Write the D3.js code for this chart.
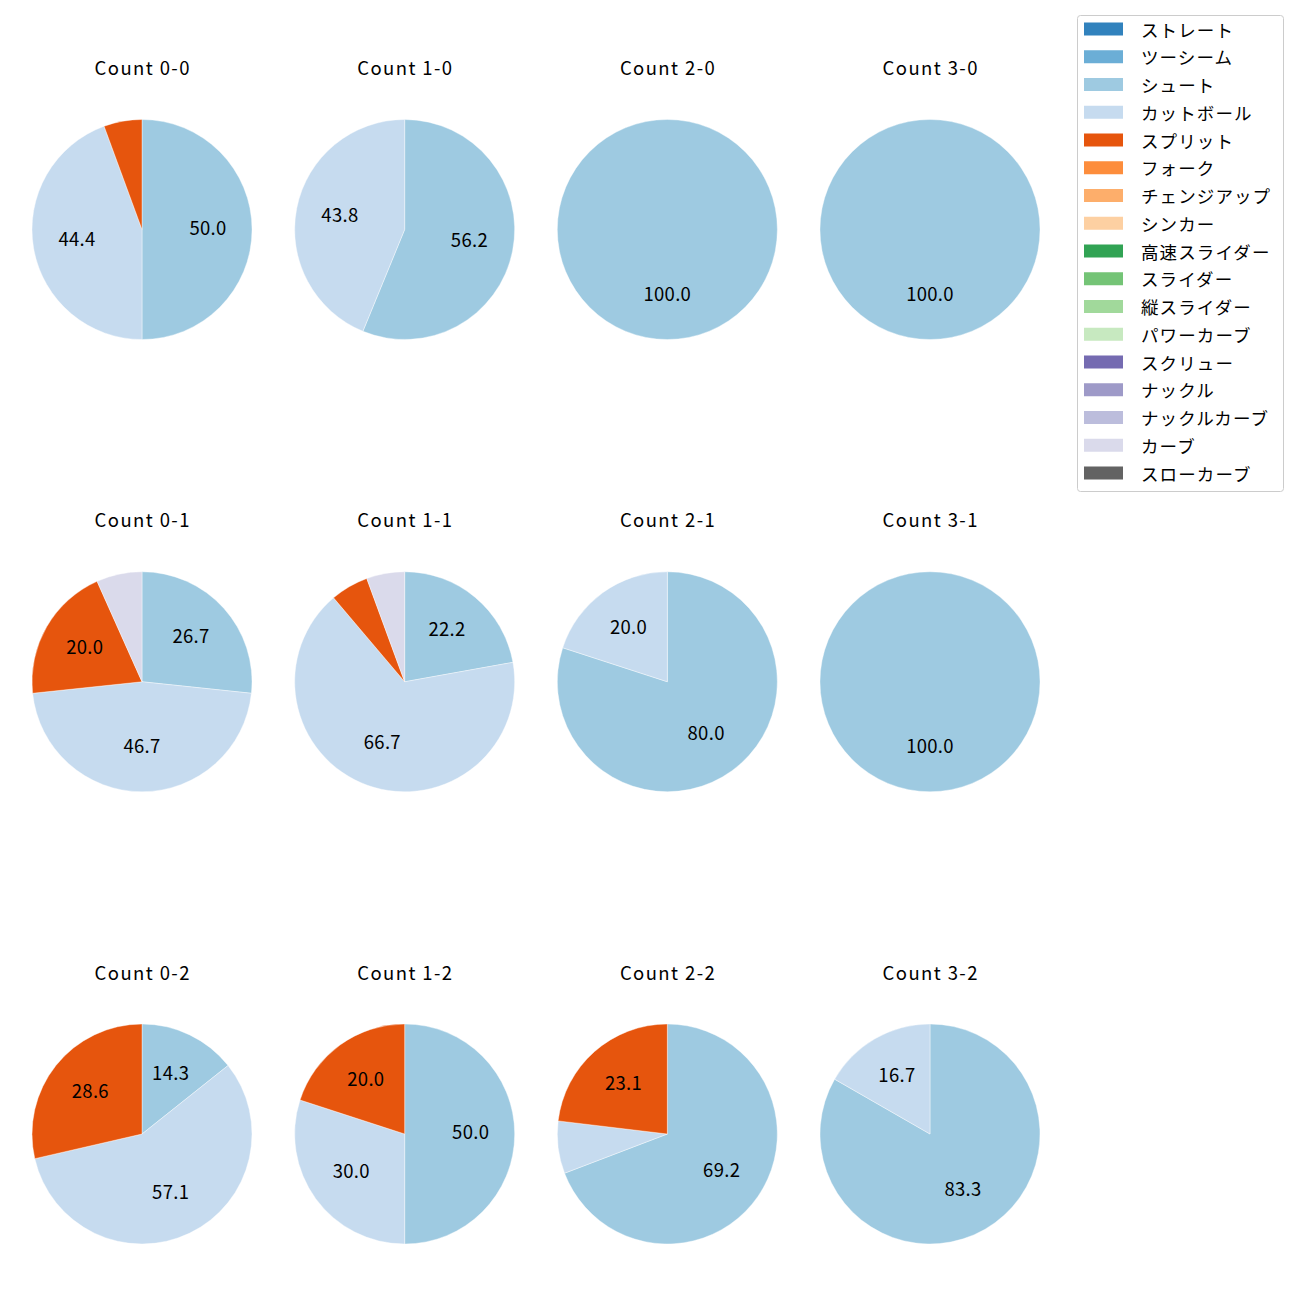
<!DOCTYPE html>
<html><head><meta charset="utf-8">
<script src="https://cdn.jsdelivr.net/npm/d3@7"></script>
<style>body{margin:0;background:#fff;} text{font-family:"Noto Sans CJK JP","Noto Sans",sans-serif;}</style>
</head><body>
<script>
const pitchTypes = ["ストレート","ツーシーム","シュート","カットボール","スプリット","フォーク","チェンジアップ","シンカー","高速スライダー","スライダー","縦スライダー","パワーカーブ","スクリュー","ナックル","ナックルカーブ","カーブ","スローカーブ"];
const pitchColors = ["#3182bd","#6baed6","#9ecae1","#c6dbef","#e6550d","#fd8d3c","#fdae6b","#fdd0a2","#31a354","#74c476","#a1d99b","#c7e9c0","#756bb1","#9e9ac8","#bcbddc","#dadaeb","#636363"];
const countTitles = ["Count 0-0","Count 1-0","Count 2-0","Count 3-0","Count 0-1","Count 1-1","Count 2-1","Count 3-1","Count 0-2","Count 1-2","Count 2-2","Count 3-2"];
// percentages per count, by pitch type name
const countShares = [
  {"シュート":50.0,"カットボール":44.4,"スプリット":5.6},
  {"シュート":56.2,"カットボール":43.8},
  {"シュート":100.0},
  {"シュート":100.0},
  {"シュート":26.7,"カットボール":46.7,"スプリット":20.0,"カーブ":6.7},
  {"シュート":22.2,"カットボール":66.7,"スプリット":5.6,"カーブ":5.6},
  {"シュート":80.0,"カットボール":20.0},
  {"シュート":100.0},
  {"シュート":14.3,"カットボール":57.1,"スプリット":28.6},
  {"シュート":50.0,"カットボール":30.0,"スプリット":20.0},
  {"シュート":69.2,"カットボール":7.7,"スプリット":23.1},
  {"シュート":83.3,"カットボール":16.7}
];
const labelThreshold = 10;

const W = 1300, H = 1300;
const svg = d3.select("body").append("svg").attr("width", W).attr("height", H);
const color = d3.scaleOrdinal().domain(pitchTypes).range(pitchColors);
const colX = d3.scalePoint().domain([0,1,2,3]).range([142, 930]);
const rowY = d3.scalePoint().domain([0,1,2]).range([229.5, 1134]);
const R = 110;
const pie = d3.pie().sort(null).value(d => d.v).startAngle(0).endAngle(2*Math.PI);
const arc = d3.arc().innerRadius(0).outerRadius(R);
const labelArc = d3.arc().innerRadius(R*0.6).outerRadius(R*0.6);

countShares.forEach((shares, i) => {
  const data = pitchTypes.filter(p => shares[p] != null).map(p => ({k:p, v:shares[p]}));
  const col = i % 4, row = Math.floor(i / 4);
  const cx = colX(col), cy = rowY(row);
  const g = svg.append("g").attr("transform", `translate(${cx},${cy})`);
  const arcs = pie(data);
  g.selectAll("path").data(arcs).join("path")
    .attr("d", arc).attr("fill", d => color(d.data.k))
    .attr("stroke", "#fff").attr("stroke-width", 0.4);
  g.selectAll("text.lbl").data(arcs.filter(d => d.data.v >= labelThreshold)).join("text")
    .attr("class","lbl")
    .attr("transform", d => { const c = labelArc.centroid(d); return `translate(${c[0]},${c[1] + 5.2})`; })
    .attr("text-anchor","middle")
    .attr("font-size", 18.5).attr("letter-spacing", 0.3).attr("fill", "#000")
    .text(d => d.data.v.toFixed(1));
  svg.append("text").attr("x", cx + 0.7).attr("y", cy - 154.3)
    .attr("text-anchor","middle")
    .attr("font-size", 18.5).attr("letter-spacing", 1.4).attr("fill","#000").text(countTitles[i]);
});

// legend
const lg = svg.append("g");
lg.append("rect").attr("x",1077.5).attr("y",15.5).attr("width",206).attr("height",476).attr("rx",3)
  .attr("fill","#fff").attr("stroke","#ccc").attr("stroke-width",1);
const ly = d3.scaleLinear().domain([0, pitchTypes.length-1]).range([29, 473]);
pitchTypes.forEach((p, i) => {
  lg.append("rect").attr("x",1084).attr("y",ly(i)-6.5).attr("width",39).attr("height",13).attr("fill",color(p));
  lg.append("text").attr("x",1141).attr("y",ly(i)).attr("dominant-baseline","central")
    .attr("font-size",17.5).attr("letter-spacing",1.1).attr("fill","#000").text(p);
});
</script>
</body></html>
